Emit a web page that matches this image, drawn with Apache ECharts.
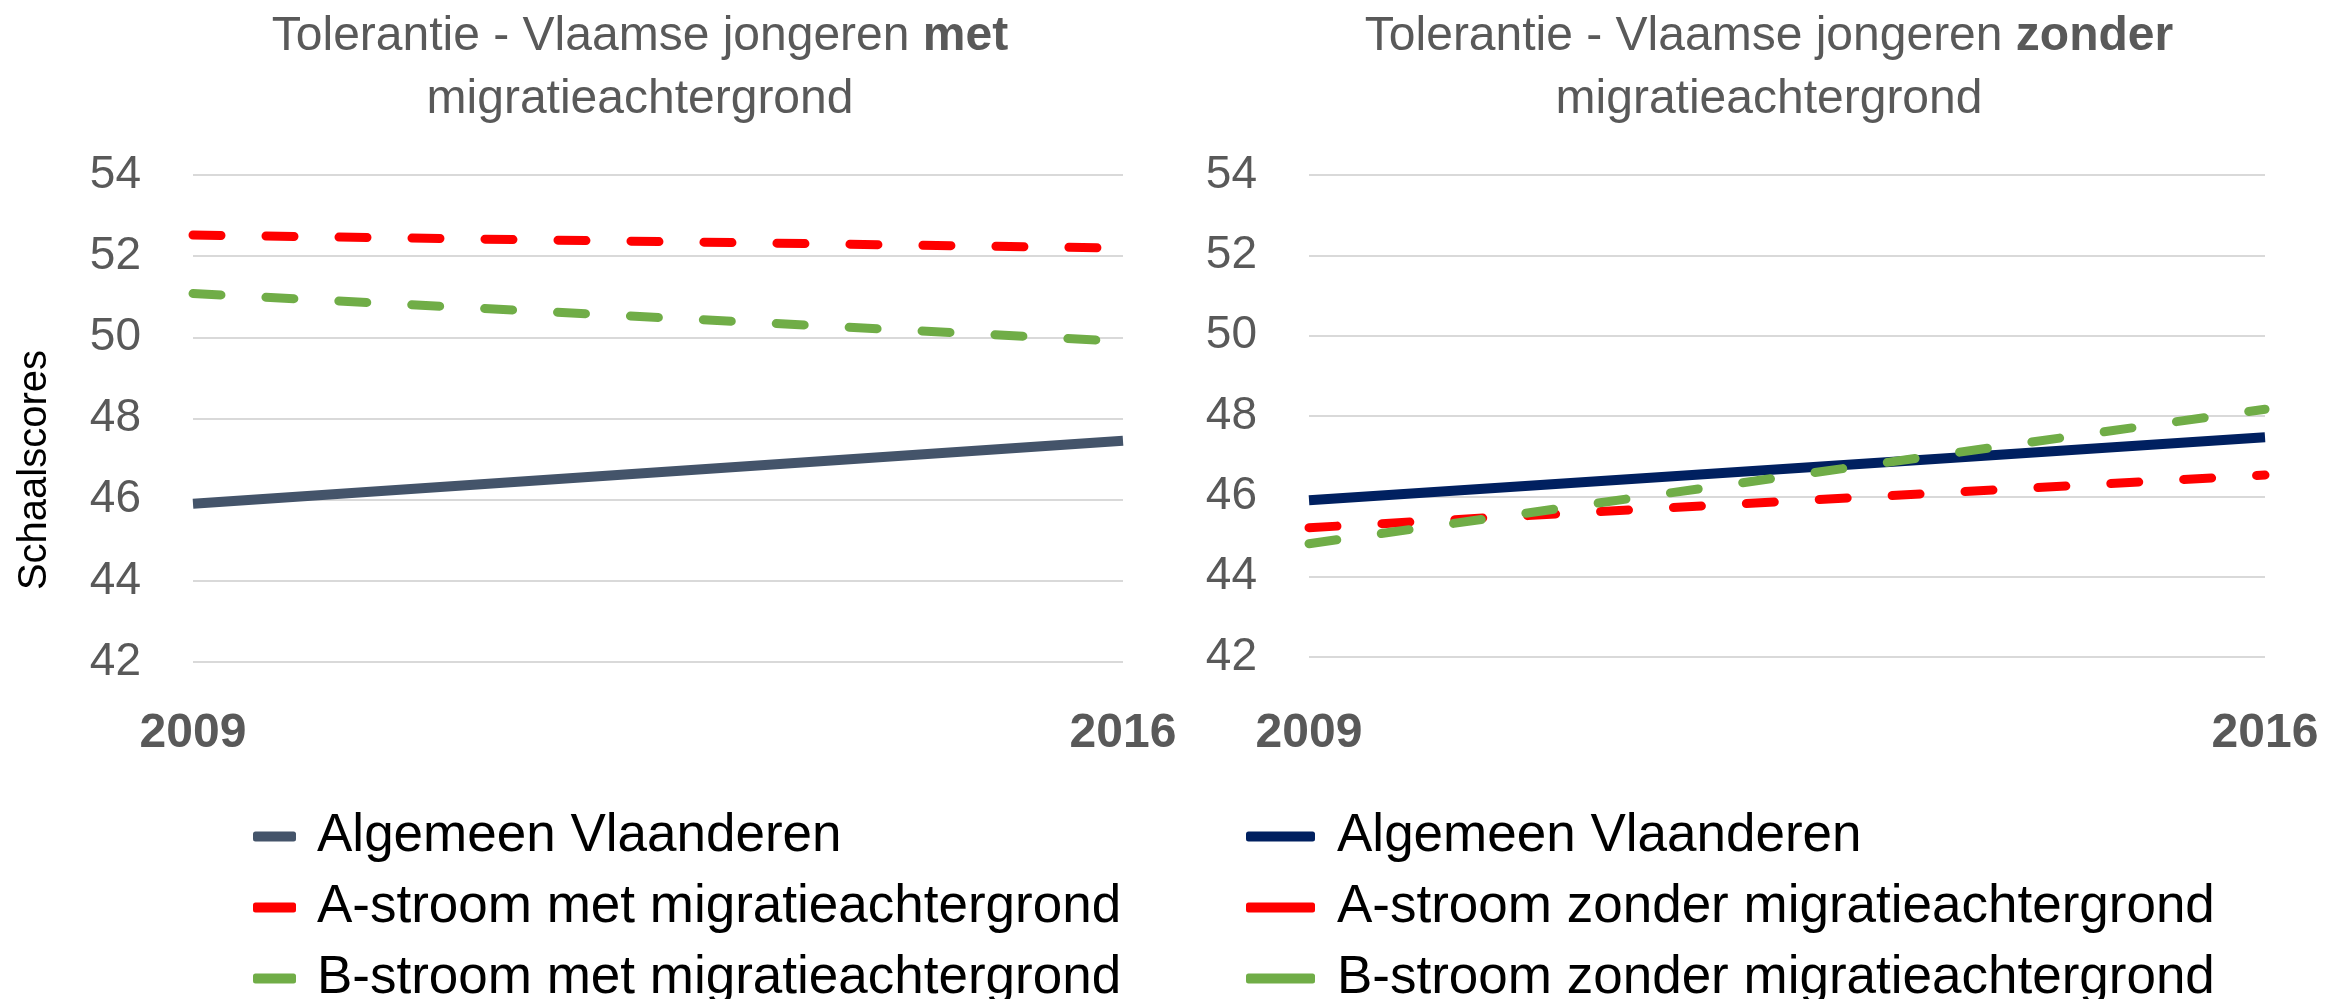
<!DOCTYPE html>
<html>
<head>
<meta charset="utf-8">
<script src="https://cdn.jsdelivr.net/npm/echarts@6/dist/echarts.min.js"></script>
<style>
html,body{margin:0;padding:0;background:#fff;}
#chart{width:2346px;height:999px;}
</style>
</head>
<body>
<div id="chart"></div>
<script>
var years = ['2009', '2016'];
var yTicks = [42, 44, 46, 48, 50, 52, 54];

var titleMet = ['Tolerantie - Vlaamse jongeren ', 'met', 'migratieachtergrond'];
var titleZonder = ['Tolerantie - Vlaamse jongeren ', 'zonder', 'migratieachtergrond'];
var yName = 'Schaalscores';

var namesMet = ['Algemeen Vlaanderen', 'A-stroom met migratieachtergrond', 'B-stroom met migratieachtergrond'];
var namesZonder = ['Algemeen Vlaanderen', 'A-stroom zonder migratieachtergrond', 'B-stroom zonder migratieachtergrond'];

var algemeenMet = [45.9, 47.45];
var aStroomMet = [52.52, 52.2];
var bStroomMet = [51.08, 49.9];

var algemeenZonder = [45.9, 47.47];
var aStroomZonder = [45.22, 46.53];
var bStroomZonder = [44.82, 48.17];

var FONT = '"Liberation Sans", Arial, sans-serif';
var GREY = '#595959';
var colorsMet = ['#44546A', '#FF0000', '#70AD47'];
var colorsZonder = ['#002060', '#FF0000', '#70AD47'];

// unique internal ids for legend linking, display via formatter
var idsMet = namesMet.map(function (n) { return n + '|met'; });
var idsZonder = namesZonder.map(function (n) { return n + '|zonder'; });
function displayName(id) { return id.split('|')[0]; }

function titleOpt(parts, center) {
  return {
    text: '{n|' + parts[0] + '}{b|' + parts[1] + '}\n{n|' + parts[2] + '}',
    left: center,
    top: 5,
    padding: 0,
    textAlign: 'center',
    textStyle: {
      fontWeight: 'normal',
      rich: {
        n: { fontFamily: FONT, fontSize: 48, color: GREY, fontWeight: 'normal', lineHeight: 63 },
        b: { fontFamily: FONT, fontSize: 48, color: GREY, fontWeight: 'bold', lineHeight: 63 }
      }
    }
  };
}

function yAxisOpt(idx) {
  return {
    type: 'value', gridIndex: idx,
    min: yTicks[0], max: yTicks[yTicks.length - 1], interval: 2,
    axisLine: { show: false }, axisTick: { show: false },
    axisLabel: { color: GREY, fontSize: 46, fontFamily: FONT, margin: 52 },
    splitLine: { lineStyle: { color: '#D9D9D9', width: 2 } }
  };
}

function xAxisOpt(idx, margin) {
  return {
    type: 'category', gridIndex: idx, data: years, boundaryGap: false,
    axisLine: { show: false }, axisTick: { show: false },
    axisLabel: { color: GREY, fontSize: 48, fontWeight: 'bold', fontFamily: FONT, margin: margin, interval: 0 },
    splitLine: { show: false }
  };
}

function lineSeries(name, data, idx, color, dashed) {
  return {
    name: name, type: 'line', xAxisIndex: idx, yAxisIndex: idx,
    data: data, symbol: 'none', smooth: false,
    lineStyle: dashed
      ? { color: color, width: 9, type: [28, 45], cap: 'round' }
      : { color: color, width: 10 },
    itemStyle: { color: color },
    emphasis: { disabled: true }
  };
}

function legendOpt(ids, colors, left, iconW, pad) {
  return {
    orient: 'vertical',
    left: left, top: 810,
    width: 1100, height: 400,
    padding: 0,
    data: ids.map(function (id, i) {
      return {
        name: id,
        icon: 'roundRect',
        itemStyle: { color: colors[i], borderColor: colors[i], borderWidth: 0, borderType: 'solid' }
      };
    }),
    icon: 'roundRect',
    itemWidth: iconW, itemHeight: 10,
    itemGap: 18,
    formatter: displayName,
    textStyle: { fontFamily: FONT, fontSize: 53, color: '#000', lineHeight: 52, padding: [0, 0, 0, pad] },
    selectedMode: false
  };
}

var chart = echarts.init(document.getElementById('chart'), null, { renderer: 'canvas' });
chart.setOption({
  backgroundColor: '#fff',
  animation: false,
  title: [titleOpt(titleMet, 640), titleOpt(titleZonder, 1769)],
  grid: [
    { left: 193, top: 175, width: 930, height: 487 },
    { left: 1309, top: 175, width: 956, height: 482 }
  ],
  xAxis: [xAxisOpt(0, 48), xAxisOpt(1, 53)],
  yAxis: [yAxisOpt(0), yAxisOpt(1)],
  legend: [legendOpt(idsMet, colorsMet, 253, 43, 16), legendOpt(idsZonder, colorsZonder, 1246, 69, 17)],
  graphic: [{
    type: 'text', x: 35, y: 470, rotation: Math.PI / 2,
    style: { text: yName, fontFamily: FONT, fontSize: 40, fill: '#000', align: 'center', verticalAlign: 'middle' }
  }],
  series: [
    lineSeries(idsMet[0], algemeenMet, 0, colorsMet[0], false),
    lineSeries(idsMet[1], aStroomMet, 0, colorsMet[1], true),
    lineSeries(idsMet[2], bStroomMet, 0, colorsMet[2], true),
    lineSeries(idsZonder[0], algemeenZonder, 1, colorsZonder[0], false),
    lineSeries(idsZonder[1], aStroomZonder, 1, colorsZonder[1], true),
    lineSeries(idsZonder[2], bStroomZonder, 1, colorsZonder[2], true)
  ]
});
</script>
</body>
</html>
